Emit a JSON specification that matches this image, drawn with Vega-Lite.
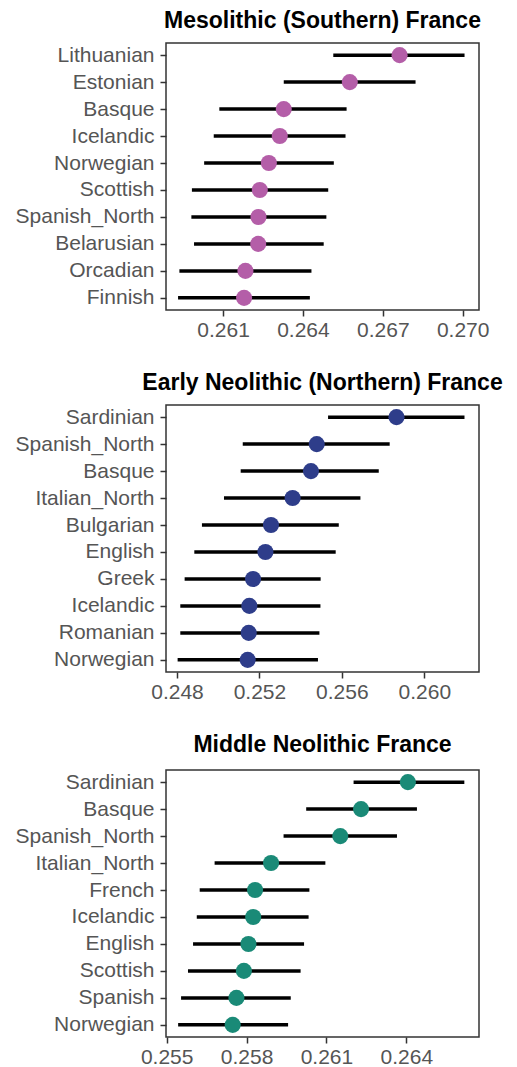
{
  "$schema": "https://vega.github.io/schema/vega-lite/v6.json",
  "padding": {"left": 14, "top": 9, "right": 0, "bottom": 0},
  "background": "white",
  "datasets": {
    "meso": [
      {"pop": "Lithuanian", "est": 0.26763, "lo": 0.26514, "hi": 0.27007},
      {"pop": "Estonian", "est": 0.26576, "lo": 0.26328, "hi": 0.26823},
      {"pop": "Basque", "est": 0.26328, "lo": 0.26086, "hi": 0.26564},
      {"pop": "Icelandic", "est": 0.26313, "lo": 0.26065, "hi": 0.26560},
      {"pop": "Norwegian", "est": 0.26272, "lo": 0.26029, "hi": 0.26516},
      {"pop": "Scottish", "est": 0.26238, "lo": 0.25983, "hi": 0.26495},
      {"pop": "Spanish_North", "est": 0.26233, "lo": 0.25981, "hi": 0.26488},
      {"pop": "Belarusian", "est": 0.26232, "lo": 0.25991, "hi": 0.26478},
      {"pop": "Orcadian", "est": 0.26184, "lo": 0.25936, "hi": 0.26432},
      {"pop": "Finnish", "est": 0.26179, "lo": 0.25931, "hi": 0.26426}
    ],
    "early": [
      {"pop": "Sardinian", "est": 0.25865, "lo": 0.25533, "hi": 0.26195},
      {"pop": "Spanish_North", "est": 0.25478, "lo": 0.25119, "hi": 0.25832},
      {"pop": "Basque", "est": 0.25450, "lo": 0.25109, "hi": 0.25779},
      {"pop": "Italian_North", "est": 0.25361, "lo": 0.25028, "hi": 0.25690},
      {"pop": "Bulgarian", "est": 0.25256, "lo": 0.24921, "hi": 0.25585},
      {"pop": "English", "est": 0.25229, "lo": 0.24884, "hi": 0.25570},
      {"pop": "Greek", "est": 0.25169, "lo": 0.24837, "hi": 0.25497},
      {"pop": "Icelandic", "est": 0.25151, "lo": 0.24816, "hi": 0.25496},
      {"pop": "Romanian", "est": 0.25148, "lo": 0.24816, "hi": 0.25491},
      {"pop": "Norwegian", "est": 0.25143, "lo": 0.24803, "hi": 0.25484}
    ],
    "middle": [
      {"pop": "Sardinian", "est": 0.26406, "lo": 0.26202, "hi": 0.26618},
      {"pop": "Basque", "est": 0.26230, "lo": 0.26024, "hi": 0.26440},
      {"pop": "Spanish_North", "est": 0.26152, "lo": 0.25939, "hi": 0.26365},
      {"pop": "Italian_North", "est": 0.25892, "lo": 0.25680, "hi": 0.26096},
      {"pop": "French", "est": 0.25832, "lo": 0.25624, "hi": 0.26036},
      {"pop": "Icelandic", "est": 0.25825, "lo": 0.25613, "hi": 0.26033},
      {"pop": "English", "est": 0.25807, "lo": 0.25599, "hi": 0.26016},
      {"pop": "Scottish", "est": 0.25790, "lo": 0.25580, "hi": 0.26003},
      {"pop": "Spanish", "est": 0.25762, "lo": 0.25554, "hi": 0.25966},
      {"pop": "Norwegian", "est": 0.25748, "lo": 0.25543, "hi": 0.25956}
    ]
  },
  "spacing": 30,
  "vconcat": [
    {
      "title": {"text": "Mesolithic (Southern) France", "frame": "group", "anchor": "middle", "offset": 10},
      "width": 313,
      "height": 267,
      "data": {"name": "meso"},
      "encoding": {
        "y": {"field": "pop", "type": "nominal", "sort": null, "scale": {"type": "point", "padding": 0.45}, "axis": {"title": null}}
      },
      "layer": [
        {
          "mark": {"type": "rule", "strokeWidth": 3.5, "color": "black"},
          "encoding": {
            "x": {"field": "lo", "type": "quantitative", "scale": {"domain": [0.258857, 0.270613], "nice": false, "zero": false}, "axis": {"values": [0.261, 0.264, 0.267, 0.270], "format": ".3f", "title": null}},
            "x2": {"field": "hi"}
          }
        },
        {
          "mark": {"type": "circle", "size": 260, "opacity": 1, "color": "#b45ea8"},
          "encoding": {"x": {"field": "est", "type": "quantitative"}}
        }
      ]
    },
    {
      "title": {"text": "Early Neolithic (Northern) France", "frame": "group", "anchor": "middle", "offset": 10},
      "width": 313,
      "height": 267,
      "data": {"name": "early"},
      "encoding": {
        "y": {"field": "pop", "type": "nominal", "sort": null, "scale": {"type": "point", "padding": 0.45}, "axis": {"title": null}}
      },
      "layer": [
        {
          "mark": {"type": "rule", "strokeWidth": 3.5, "color": "black"},
          "encoding": {
            "x": {"field": "lo", "type": "quantitative", "scale": {"domain": [0.247466, 0.262654], "nice": false, "zero": false}, "axis": {"values": [0.248, 0.252, 0.256, 0.260], "format": ".3f", "title": null}},
            "x2": {"field": "hi"}
          }
        },
        {
          "mark": {"type": "circle", "size": 260, "opacity": 1, "color": "#2e3d8a"},
          "encoding": {"x": {"field": "est", "type": "quantitative"}}
        }
      ]
    },
    {
      "title": {"text": "Middle Neolithic France", "frame": "group", "anchor": "middle", "offset": 13},
      "width": 313,
      "height": 267,
      "data": {"name": "middle"},
      "encoding": {
        "y": {"field": "pop", "type": "nominal", "sort": null, "scale": {"type": "point", "padding": 0.45}, "axis": {"title": null}}
      },
      "layer": [
        {
          "mark": {"type": "rule", "strokeWidth": 3.5, "color": "black"},
          "encoding": {
            "x": {"field": "lo", "type": "quantitative", "scale": {"domain": [0.254974, 0.266731], "nice": false, "zero": false}, "axis": {"values": [0.255, 0.258, 0.261, 0.264], "format": ".3f", "title": null}},
            "x2": {"field": "hi"}
          }
        },
        {
          "mark": {"type": "circle", "size": 260, "opacity": 1, "color": "#1a8a77"},
          "encoding": {"x": {"field": "est", "type": "quantitative"}}
        }
      ]
    }
  ],
  "config": {
    "font": "Liberation Sans",
    "view": {"stroke": "#333333", "strokeWidth": 1.5},
    "axis": {"domain": false, "grid": false, "labelFont": "Liberation Sans", "labelFontSize": 21, "labelColor": "#555555", "tickColor": "#333333", "tickSize": 6, "tickWidth": 1.5, "labelPadding": 3, "labelFlush": false, "labelOverlap": false},
    "axisY": {"minExtent": 150, "maxExtent": 150, "labelPadding": 6},
    "title": {"font": "Liberation Sans", "fontSize": 23, "fontWeight": "bold", "color": "black"}
  }
}
